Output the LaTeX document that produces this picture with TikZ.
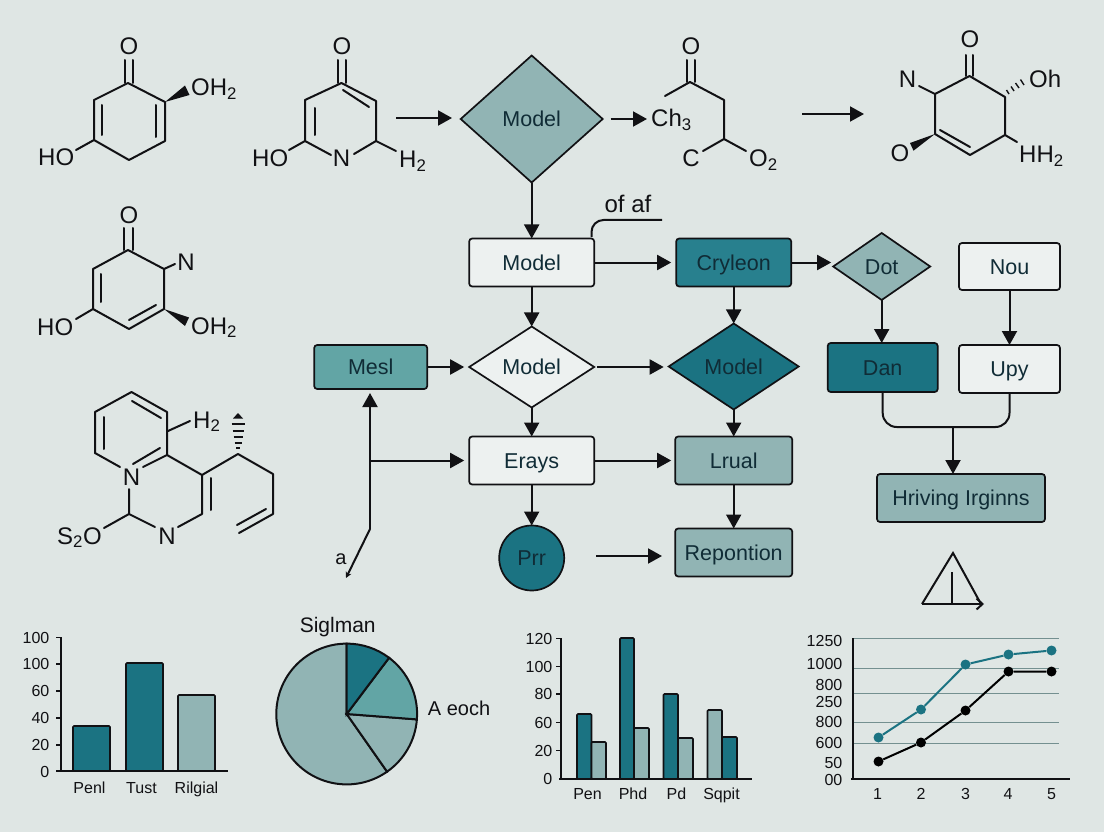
\documentclass[tikz,border=0pt]{standalone}
\usepackage{fontspec}
\setmainfont{Liberation Sans}
\usepackage{xcolor}
\usepackage{tikz}
\usetikzlibrary{shapes.geometric, arrows.meta, positioning, calc}
\definecolor{mybg}{RGB}{223,230,228}
\definecolor{mydark}{RGB}{17,17,20}
\definecolor{myink}{RGB}{16,44,54}
\definecolor{myteal}{RGB}{27,115,130}
\definecolor{mytealb}{RGB}{40,128,142}
\definecolor{mymid}{RGB}{98,165,165}
\definecolor{mylight}{RGB}{145,180,180}
\definecolor{mypale}{RGB}{237,241,240}
\tikzset{
  box/.style={rectangle, draw=mydark, rounded corners=3pt, line width=1.7pt,
    font=\fontsize{21.5}{24}\selectfont, text=myink, inner sep=0pt, outer sep=0pt,
    text height=15pt, text depth=0pt},
  whitebox/.style={box, fill=mypale, minimum width=125pt, minimum height=48pt},
  tealbox/.style={box, fill=mytealb, minimum width=115pt, minimum height=48pt},
  midbox/.style={box, fill=mymid, minimum width=113pt, minimum height=44pt},
  lightbox/.style={box, fill=mylight, minimum width=117pt, minimum height=48pt},
  dmd/.style={diamond, draw=mydark, line width=1.7pt, inner sep=0pt, outer sep=0pt,
    font=\fontsize{21.5}{24}\selectfont, text=myink, text height=15pt, text depth=0pt},
  roundnode/.style={circle, draw=mydark, fill=myteal, line width=1.7pt, minimum size=65pt,
    inner sep=0pt, outer sep=0pt, font=\fontsize{21.5}{24}\selectfont, text=myink,
    text height=15pt, text depth=0pt},
  flowarrow/.style={-{Triangle[length=14pt,width=15pt]}, line width=2pt, color=mydark},
  line/.style={line width=2pt, color=mydark},
  bond/.style={line width=2pt, color=mydark, line cap=round, line join=round},
  atom/.style={font=\fontsize{24}{26}\selectfont, text=mydark, inner sep=0pt, anchor=base west},
  axis/.style={line width=1.7pt, color=mydark},
  grid/.style={line width=1.1pt, color=mylight!80!black},
  bar/.style={draw=mydark, line width=1.7pt, rounded corners=1pt},
  tick/.style={font=\fontsize{16}{18}\selectfont, text=mydark, inner sep=0pt, anchor=base},
  ylab/.style={font=\fontsize{16}{18}\selectfont, text=mydark, inner sep=0pt, anchor=east},
  tdot/.style={circle, fill=myteal, minimum size=10pt, inner sep=0pt},
  kdot/.style={circle, fill=black, minimum size=10pt, inner sep=0pt}
}

\begin{document}
\begin{tikzpicture}[x=1pt, y=-1pt]
  \useasboundingbox (0,0) rectangle (1104,832);
  \fill[mybg] (0,0) rectangle (1104,832);

  % first ring
  \coordinate (a1) at (128,83);
  \coordinate (a2) at (165,102);
  \coordinate (a3) at (165,141);
  \coordinate (a4) at (129,160);
  \coordinate (a5) at (94,140);
  \coordinate (a6) at (94,100);
  \draw[bond] (a1) -- (a2) -- (a3) -- (a4) -- (a5) -- (a6) -- cycle;
  \draw[bond] (101.5,105) -- (101.5,135);
  \draw[bond] (156,105) -- (156,137);
  \draw[bond] (125,60) -- (125,83);
  \draw[bond] (133,60) -- (133,83);
  \draw[bond] (a5) -- ++(-18,10);
  \fill[mydark] (a2) -- (185,85.5) -- (189.5,95) -- cycle;
  \node[atom, anchor=base] (o1) at (129,55) {O};
  \node[atom] (oh1) at (191,96) {OH\textsubscript{2}};
  \node[atom] (ho1) at (38,166) {HO};

  % second ring
  \coordinate (b1) at (341.5,83);
  \coordinate (b2) at (376,101);
  \coordinate (b3) at (376,141);
  \coordinate (b5) at (305,141);
  \coordinate (b6) at (305,100);
  \node[atom, anchor=base] (n2) at (341.5,167) {N};
  \draw[bond] (b3) -- (b2) -- (b1) -- (b6) -- (b5);
  \draw[bond] (b5) -- ++(26,14);
  \draw[bond] (b3) -- ++(-22,13);
  \draw[bond] (315,108) -- (315,135);
  \draw[bond] (343,90) -- (369,107);
  \draw[bond] (337.5,60) -- (337.5,83);
  \draw[bond] (346,60) -- (346,83);
  \draw[bond] (b5) -- ++(-16,9);
  \draw[bond] (b3) -- ++(20,10);
  \node[atom, anchor=base] (o2) at (342,55) {O};
  \node[atom] (ho2) at (252,167) {HO};
  \node[atom] (h2) at (399,168) {H\textsubscript{2}};

  % third ring
  \coordinate (c1) at (128,250);
  \coordinate (c2) at (164,269);
  \coordinate (c3) at (164,309);
  \coordinate (c4) at (129,329);
  \coordinate (c5) at (93,309);
  \coordinate (c6) at (93,269);
  \draw[bond] (c1) -- (c2) -- (c3) -- (c4) -- (c5) -- (c6) -- cycle;
  \draw[bond] (101,274) -- (101,302);
  \draw[bond] (129,320) -- (156,305);
  \draw[bond] (124,228) -- (124,250);
  \draw[bond] (133,228) -- (133,250);
  \draw[bond] (c2) -- ++(11,-5);
  \draw[bond] (c5) -- ++(-17,10);
  \fill[mydark] (c3) -- (189,317.5) -- (185,326) -- cycle;
  \node[atom, anchor=base] (o3) at (129,223) {O};
  \node[atom, anchor=base] (n3) at (186,270) {N};
  \node[atom] (oh3) at (191,334) {OH\textsubscript{2}};
  \node[atom] (ho3) at (37,335) {HO};

  % fused rings
  \coordinate (d1) at (131.5,392);
  \coordinate (d2) at (167,412);
  \coordinate (d3) at (167,455);
  \coordinate (d4) at (95,453);
  \coordinate (d5) at (95,412);
  \coordinate (d6) at (202,475);
  \coordinate (d7) at (202,514);
  \coordinate (d8) at (129,514);
  \coordinate (d9) at (238,454);
  \coordinate (d10) at (273,474);
  \coordinate (d11) at (273,514);
  \node[atom, anchor=base] (n4) at (131.5,485) {N};
  \node[atom, anchor=base] (n5) at (167,544) {N};
  \node[atom] (h4) at (193,428) {H\textsubscript{2}};
  \node[atom] (so4) at (57,544) {S\textsubscript{2}O};
  \draw[bond] (d4) -- (d5) -- (d1) -- (d2) -- (d3);
  \draw[bond] (d4) -- ++(25,14);
  \draw[bond] (104,417) -- (104,449);
  \draw[bond] (132,401) -- (161,418);
  \draw[bond] (133,464) -- (160,448);
  \draw[bond] (143,467) -- (d3);
  \draw[bond] (168,431) -- (190,421);
  \draw[bond] (d3) -- (d6) -- (d7) -- ++(-24,13);
  \draw[bond] (211,478) -- (211,510);
  \draw[bond] (129,489) -- (d8) -- ++(26,13);
  \draw[bond] (d8) -- ++(-25,14);
  \draw[bond] (d6) -- (d9) -- (d10) -- (d11) -- (239,533);
  \draw[bond] (266,509) -- (237,525);
  % hashed bond
  \fill[mydark] (238,413) -- (233,418.5) -- (243,418.5) -- cycle;
  \draw[bond, line cap=butt] (231.5,424) -- (244.5,424);
  \draw[bond, line cap=butt] (232.5,430.5) -- (243.5,430.5);
  \draw[bond, line cap=butt] (233.5,437) -- (242.5,437);
  \draw[bond, line cap=butt] (234.5,443) -- (241.5,443);
  \draw[bond, line cap=butt] (236,448) -- (240,448);

  % open chain
  \coordinate (e1) at (690,82);
  \coordinate (e2) at (724,100);
  \coordinate (e3) at (724,139);
  \draw[bond] (e1) -- ++(-25,14);
  \draw[bond] (e1) -- (e2) -- (e3);
  \draw[bond] (e3) -- ++(-21,12);
  \draw[bond] (e3) -- ++(22,12);
  \draw[bond] (687,60) -- (687,82);
  \draw[bond] (695,60) -- (695,82);
  \node[atom, anchor=base] (o5) at (691,55) {O};
  \node[atom] (ch5) at (651,127) {Ch\textsubscript{3}};
  \node[atom, anchor=base] (c5t) at (691,167) {C};
  \node[atom] (o5b) at (749,167) {O\textsubscript{2}};

  % last ring
  \coordinate (f1) at (969.5,76);
  \coordinate (f2) at (1005,97);
  \coordinate (f3) at (1005,135);
  \coordinate (f4) at (970,155);
  \coordinate (f5) at (935,134);
  \coordinate (f6) at (935,94);
  \draw[bond] (f1) -- (f2) -- (f3) -- (f4) -- (f5) -- (f6) -- cycle;
  \draw[bond] (940,130) -- (970,147);
  \draw[bond] (966,55) -- (966,76);
  \draw[bond] (973,55) -- (973,76);
  \draw[bond] (f6) -- ++(-16,-8);
  \draw[bond] (f3) -- ++(12,7);
  \fill[mydark] (f5) -- (913.5,150.7) -- (910,143) -- cycle;
  \draw[line width=1.4pt, mydark] (1009,94) -- (1006.5,90);
  \draw[line width=1.4pt, mydark] (1014,91) -- (1011,86.5);
  \draw[line width=1.4pt, mydark] (1019,88) -- (1015.5,83);
  \draw[line width=1.4pt, mydark] (1024,85) -- (1020.5,79.5);
  \node[atom, anchor=base] (o6) at (970,48) {O};
  \node[atom, anchor=base] (n6) at (907.5,88) {N};
  \node[atom] (oh6) at (1029,88) {Oh};
  \node[atom, anchor=base] (o6b) at (900,162) {O};
  \node[atom] (hh6) at (1019,163) {HH\textsubscript{2}};

  % flow nodes
  \node[dmd, fill=mylight, minimum width=142pt, minimum height=127pt] (topmodel) at (531.7,119) {Model};
  \node[whitebox, below=56pt of topmodel] (model1) {Model};
  \node[dmd, fill=mypale, minimum width=125pt, minimum height=81pt, below=40pt of model1] (model2) {Model};
  \node[whitebox, below=29pt of model2] (erays) {Erays};
  \node[roundnode, below=41pt of erays] (prr) {Prr};
  \node[tealbox, right=82pt of model1] (cryleon) {Cryleon};
  \node[dmd, fill=myteal, minimum width=130pt, minimum height=86pt, below=37pt of cryleon] (model3) {Model};
  \node[lightbox, below=27pt of model3] (lrual) {Lrual};
  \node[lightbox, below=44pt of lrual] (repontion) {Repontion};
  \node[midbox, left=42pt of model2] (mesl) {Mesl};
  \node[dmd, fill=mylight, minimum width=97pt, minimum height=67pt, right=42pt of cryleon, yshift=-4pt] (dot) {Dot};
  \node[box, fill=myteal, minimum width=110pt, minimum height=49pt, below=43pt of dot, xshift=1pt] (dan) {Dan};
  \node[box, fill=mypale, minimum width=101pt, minimum height=47pt] (nou) at (1009.5,266.5) {Nou};
  \node[box, fill=mypale, minimum width=101pt, minimum height=48pt, below=55pt of nou] (upy) {Upy};
  \node[lightbox, minimum width=168pt] (hriving) at (961,498) {Hriving Irginns};
  \node[font=\fontsize{24}{26}\selectfont, text=mydark, inner sep=0pt, anchor=base] (ofaf) at (628,213) {of af};
  \node[font=\fontsize{20}{22}\selectfont, text=mydark, inner sep=0pt, anchor=base] (alab) at (341,564) {a};

  % free ends
  \coordinate (s1) at (396,118);
  \coordinate (s2) at (452,118);
  \coordinate (s3) at (647,119);
  \coordinate (s4) at (802,114);
  \coordinate (s5) at (864,114);
  \coordinate (s6) at (596,556);
  \coordinate (s7) at (662,556);
  \coordinate (abend) at (370,529);
  \coordinate (abot) at (346,578);
  \coordinate (abranch) at (370,461);
  \coordinate (ofa) at (591.5,237);
  \coordinate (ofb) at (662,220);
  \coordinate (jn) at (953,428);

  % connectors
  \draw[flowarrow] (s1) -- (s2);
  \draw[flowarrow, shorten <=8pt] (topmodel.east) -- (topmodel.east -| s3);
  \draw[flowarrow] (s4) -- (s5);
  \draw[flowarrow] (topmodel) -- (model1);
  \draw[flowarrow, shorten >=5pt] (model1) -- (cryleon);
  \draw[flowarrow, shorten >=2pt] (cryleon.east) -- (cryleon.east -| dot.west);
  \draw[flowarrow] (model1) -- (model2);
  \draw[flowarrow] (cryleon) -- (model3);
  \draw[flowarrow, shorten >=5pt] (mesl) -- (model2);
  \draw[flowarrow, shorten <=3pt, shorten >=5pt] (model2.east) -- (model2.east -| model3.west);
  \draw[flowarrow] (model2) -- (erays);
  \draw[flowarrow] (model3) -- (lrual);
  \draw[flowarrow, shorten >=4pt] (erays) -- (lrual);
  \draw[flowarrow] (erays) -- (prr);
  \draw[flowarrow] (lrual) -- (repontion);
  \draw[flowarrow] (s6) -- (s7);
  \draw[flowarrow] (dot) -- (dot |- dan.north);
  \draw[flowarrow] (nou) -- (upy);
  \draw[line, rounded corners=14pt] (dan.south) -- ++(0,35) -| (upy.south);
  \draw[flowarrow] (jn) -- (jn |- hriving.north);
  \draw[flowarrow, shorten >=4pt] (abend) -- (abend |- mesl.south);
  \draw[flowarrow, shorten >=5pt] (abranch |- erays.west) -- (erays.west);
  \draw[line, -{Stealth[length=6pt,width=6pt]}] (abend) -- (abot);
  \draw[line, rounded corners=12pt] (ofa) |- (ofb);

  % warning triangle
  \coordinate (w1) at (953,553);
  \coordinate (w2) at (922,604);
  \coordinate (w3) at (981,604);
  \draw[line] (w2) -- (w1) -- (w3);
  \draw[line] (952,572) -- (952,604);
  \draw[line, -{Straight Barb[length=6pt,width=11pt]}] (w2) -- (984,604);

  % chart one
  \fill[bar, fill=myteal] (73,771) rectangle (110,726);
  \fill[bar, fill=myteal] (126,771) rectangle (163,663);
  \fill[bar, fill=mylight] (178,771) rectangle (215,695);
  \draw[axis] (61,637) -- (61,771);
  \draw[axis] (56,771) -- (228,771);
  \draw[axis] (56,637.5) -- (61,637.5);
  \draw[axis] (56,664) -- (61,664);
  \draw[axis] (56,691) -- (61,691);
  \draw[axis] (56,718) -- (61,718);
  \draw[axis] (56,745) -- (61,745);
  \node[ylab] (q1) at (49.5,638) {100};
  \node[ylab] (q2) at (49.5,664) {100};
  \node[ylab] (q3) at (49.5,691) {60};
  \node[ylab] (q4) at (49.5,718) {40};
  \node[ylab] (q5) at (49.5,745) {20};
  \node[ylab] (q6) at (49.5,772) {0};
  \node[tick] (q7) at (89.5,793) {Penl};
  \node[tick] (q8) at (141.5,793) {Tust};
  \node[tick] (q9) at (196.5,793) {Rilgial};

  % pie
  \coordinate (pc) at (346.7,714);
  \begin{scope}[shift={(pc)}, y=1pt]
    \filldraw[line, fill=mylight] (0,0) -- (-55:70.4) arc[start angle=-55, end angle=-270, radius=70.4] -- cycle;
    \filldraw[line, fill=mylight] (0,0) -- (-4.4:70.4) arc[start angle=-4.4, end angle=-55, radius=70.4] -- cycle;
    \filldraw[line, fill=mymid] (0,0) -- (53:70.4) arc[start angle=53, end angle=-4.4, radius=70.4] -- cycle;
    \filldraw[line, fill=myteal] (0,0) -- (90:70.4) arc[start angle=90, end angle=53, radius=70.4] -- cycle;
  \end{scope}
  \node[font=\fontsize{21}{24}\selectfont, text=mydark, inner sep=0pt, anchor=base] (pt) at (337.7,632) {Siglman};
  \node[font=\fontsize{20}{22}\selectfont, text=mydark, inner sep=0pt, anchor=base west] (pa) at (427.7,715) {A eoch};

  % chart two
  \fill[bar, fill=myteal] (577,779) rectangle (591.5,714);
  \fill[bar, fill=mylight] (591.5,779) rectangle (606,742);
  \fill[bar, fill=myteal] (620,779) rectangle (634,638);
  \fill[bar, fill=mylight] (634,779) rectangle (649,728);
  \fill[bar, fill=myteal] (663.5,779) rectangle (678,694);
  \fill[bar, fill=mylight] (678,779) rectangle (693,738);
  \fill[bar, fill=mylight] (707.5,779) rectangle (722,710);
  \fill[bar, fill=myteal] (722,779) rectangle (737,737);
  \draw[axis] (561,638) -- (561,779);
  \draw[axis] (559,779) -- (752,779);
  \draw[axis] (556,638.5) -- (561,638.5);
  \draw[axis] (556,666.5) -- (561,666.5);
  \draw[axis] (556,694) -- (561,694);
  \draw[axis] (556,722.5) -- (561,722.5);
  \draw[axis] (556,750.5) -- (561,750.5);
  \node[ylab] (r1) at (552.5,639) {120};
  \node[ylab] (r2) at (552.5,667) {100};
  \node[ylab] (r3) at (552.5,694) {80};
  \node[ylab] (r4) at (552.5,723) {60};
  \node[ylab] (r5) at (552.5,751) {20};
  \node[ylab] (r6) at (552.5,779) {0};
  \node[tick] (r7) at (587.5,799) {Pen};
  \node[tick] (r8) at (633,799) {Phd};
  \node[tick] (r9) at (676.5,799) {Pd};
  \node[tick] (r10) at (721.5,799) {Sqpit};

  % chart three
  \draw[grid] (853,638.5) -- (1058.5,638.5);
  \draw[grid] (853,668.5) -- (1058.5,668.5);
  \draw[grid] (853,693.5) -- (1058.5,693.5);
  \draw[grid] (853,722.5) -- (1058.5,722.5);
  \draw[grid] (853,743.5) -- (1058.5,743.5);
  \draw[axis] (853,638) -- (853,779);
  \draw[axis] (851,779) -- (1070,779);
  \node[ylab] (u1) at (842.5,641) {1250};
  \node[ylab] (u2) at (842.5,664) {1000};
  \node[ylab] (u3) at (842.5,685) {800};
  \node[ylab] (u4) at (842.5,702) {250};
  \node[ylab] (u5) at (842.5,722) {800};
  \node[ylab] (u6) at (842.5,743) {600};
  \node[ylab] (u7) at (842.5,763) {50};
  \node[ylab] (u8) at (842.5,780) {00};
  \node[tick] (x1) at (877.5,799) {1};
  \node[tick] (x2) at (921,799) {2};
  \node[tick] (x3) at (965.5,799) {3};
  \node[tick] (x4) at (1008,799) {4};
  \node[tick] (x5) at (1051.5,799) {5};
  \node[tdot] (t1) at (878.5,737.5) {};
  \node[tdot] (t2) at (921,709.5) {};
  \node[tdot] (t3) at (965.5,664.5) {};
  \node[tdot] (t4) at (1008.5,654.5) {};
  \node[tdot] (t5) at (1051.5,650.5) {};
  \node[kdot] (k1) at (878.5,761.5) {};
  \node[kdot] (k2) at (921,742.5) {};
  \node[kdot] (k3) at (965.5,710.5) {};
  \node[kdot] (k4) at (1008.5,671.5) {};
  \node[kdot] (k5) at (1051.5,671.5) {};
  \draw[line width=2pt, myteal] (t1) -- (t2) -- (t3) -- (t4) -- (t5);
  \draw[line width=2pt, black] (k1) -- (k2) -- (k3) -- (k4) -- (k5);
\end{tikzpicture}
\end{document}
